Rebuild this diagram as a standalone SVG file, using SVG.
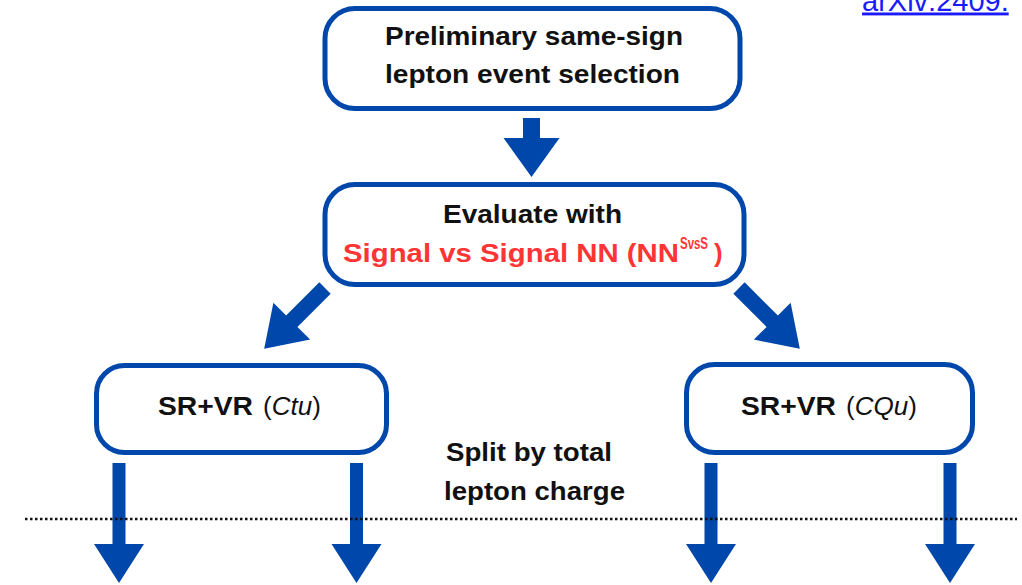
<svg xmlns="http://www.w3.org/2000/svg" width="1022" height="585" viewBox="0 0 1022 585">
  <style>
    .box { fill: #ffffff; stroke: #0047ab; stroke-width: 5; }
    .arrow { fill: #0047ab; }
    .t { font-family: "Liberation Sans", Arial, sans-serif; font-size: 26px; font-weight: bold; fill: #111111; }
    .red { fill: #ff3535; }
    .it { font-style: italic; font-weight: normal; }
    .reg { font-weight: normal; }
    .link { font-family: "Liberation Sans", Arial, sans-serif; font-size: 29px; fill: #1a1aff; text-decoration: underline; }
    .dots { stroke: #111111; stroke-width: 2.5; stroke-dasharray: 2.5 2.5; fill: none; }
  </style>
  <defs>
    <!-- block arrows pointing down (+y), starting at the origin -->
    <polygon id="bigArrow" points="-8.5,0 8.5,0 8.5,20 28,20 0,59 -28,20 -8.5,20"/>
    <polygon id="diagArrow" points="-8,0 8,0 8,47 26,47 0,86 -26,47 -8,47"/>
    <polygon id="splitArrow" points="-6.5,0 6.5,0 6.5,81 25,81 0,120 -25,81 -6.5,81"/>
  </defs>

  <rect width="1022" height="585" fill="#ffffff"/>

  <text class="link" x="862" y="10.5">arXiv:2409.</text>

  <g id="connectors" class="arrow">
    <use href="#bigArrow" transform="translate(531.5,118)"/>
    <use href="#diagArrow" transform="translate(325,288) rotate(45)"/>
    <use href="#diagArrow" transform="translate(739,288) rotate(-45)"/>
    <use href="#splitArrow" transform="translate(119,463)"/>
    <use href="#splitArrow" transform="translate(356.5,463)"/>
    <use href="#splitArrow" transform="translate(711,463)"/>
    <use href="#splitArrow" transform="translate(950,463)"/>
  </g>

  <line class="dots" x1="25" y1="519" x2="1017" y2="519"/>

  <g id="preselection">
    <rect class="box" x="325" y="8.5" width="415" height="100" rx="30"/>
    <text class="t" x="385" y="45" textLength="298" lengthAdjust="spacingAndGlyphs">Preliminary same-sign</text>
    <text class="t" x="385" y="83" textLength="295" lengthAdjust="spacingAndGlyphs">lepton event selection</text>
  </g>

  <g id="evaluate">
    <rect class="box" x="325" y="184.5" width="419" height="100" rx="30"/>
    <text class="t" x="443" y="223" textLength="179" lengthAdjust="spacingAndGlyphs">Evaluate with</text>
    <text class="t red" y="262"><tspan x="343" textLength="336" lengthAdjust="spacingAndGlyphs">Signal vs Signal NN (NN</tspan><tspan x="680" dy="-13" style="font-size:16px" textLength="28" lengthAdjust="spacingAndGlyphs">SvsS</tspan><tspan x="714" dy="13">)</tspan></text>
  </g>

  <g id="region-ctu">
    <rect class="box" x="96.5" y="365.5" width="290" height="87" rx="28"/>
    <text class="t" x="158" y="415" textLength="95" lengthAdjust="spacingAndGlyphs">SR+VR</text>
    <text class="t reg" x="263" y="415">(<tspan class="it">Ctu</tspan>)</text>
  </g>

  <g id="region-cqu">
    <rect class="box" x="686.5" y="364.5" width="286" height="88" rx="28"/>
    <text class="t" x="741" y="415" textLength="95" lengthAdjust="spacingAndGlyphs">SR+VR</text>
    <text class="t reg" x="846" y="415">(<tspan class="it">CQu</tspan>)</text>
  </g>

  <g id="split-label">
    <text class="t" x="446" y="461" textLength="166" lengthAdjust="spacingAndGlyphs">Split by total</text>
    <text class="t" x="444" y="500" textLength="181" lengthAdjust="spacingAndGlyphs">lepton charge</text>
  </g>
</svg>
